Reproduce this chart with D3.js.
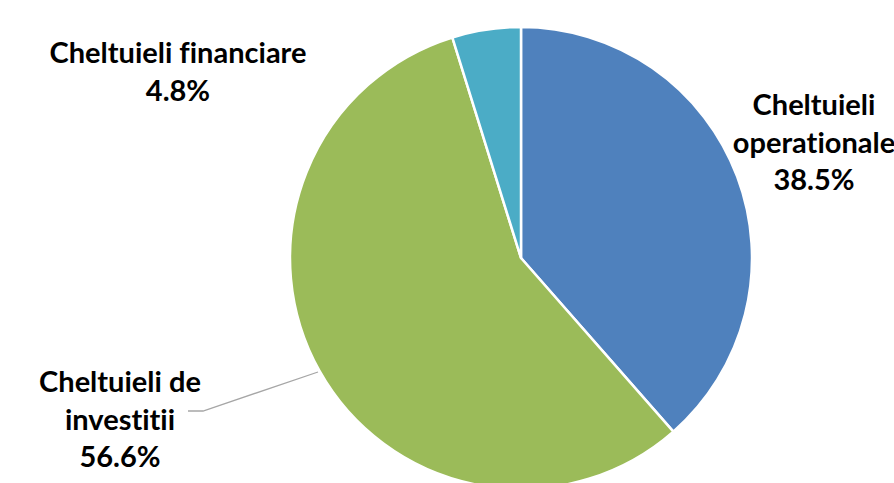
<!DOCTYPE html>
<html><head><meta charset="utf-8">
<script src="https://cdn.jsdelivr.net/npm/d3@7"></script>
<style>body{margin:0;background:#fff;overflow:hidden}svg{display:block}</style>
</head><body>
<svg id="c" width="894" height="483"></svg>
<script>
const categories = ["Cheltuieli operationale", "Cheltuieli de investitii", "Cheltuieli financiare"];
const values = [38.5, 56.6, 4.8];
const valueLabels = ["38.5%", "56.6%", "4.8%"];
const colors = ["#4F81BD", "#9BBB59", "#4BACC6"];

const svg = d3.select("#c");
const cx = 521, cy = 258, r = 231;
const g = svg.append("g").attr("transform", `translate(${cx},${cy})`);
const data = categories.map((c, i) => ({name: c, value: values[i], label: valueLabels[i], color: colors[i]}));
const pie = d3.pie().value(d => d.value).sort(null);
const arc = d3.arc().innerRadius(0).outerRadius(r);
const arcs = pie(data);
g.selectAll("path").data(arcs).enter().append("path")
  .attr("d", arc).attr("fill", d => d.data.color)
  .attr("stroke", "#fff").attr("stroke-width", 2.5).attr("stroke-linejoin", "round");

const labelLines = [
  {lines: ["Cheltuieli", "operationale", "38.5%"], x: 814, y: 115},
  {lines: ["Cheltuieli de", "investitii", "56.6%"], x: 120, y: 392},
  {lines: ["Cheltuieli financiare", "4.8%"], x: 178, y: 63}
];
const lh = 37.5;
labelLines.forEach(l => {
  const t = svg.append("text").attr("text-anchor", "middle")
    .attr("font-family", "Lato, 'Open Sans', sans-serif").attr("font-weight", 700)
    .attr("font-size", 29).attr("fill", "#000")
    .style("font-variant-ligatures", "none").style("font-feature-settings", "'liga' 0, 'clig' 0");
  l.lines.forEach((s, i) => t.append("tspan").attr("x", l.x).attr("y", l.y + i * lh).text(s));
});

svg.append("polyline")
  .attr("points", [[188, 411], [203, 411], [318, 372]].map(p => p.join(",")).join(" "))
  .attr("fill", "none").attr("stroke", "#A6A6A6").attr("stroke-width", 1.3);
</script>
</body></html>
